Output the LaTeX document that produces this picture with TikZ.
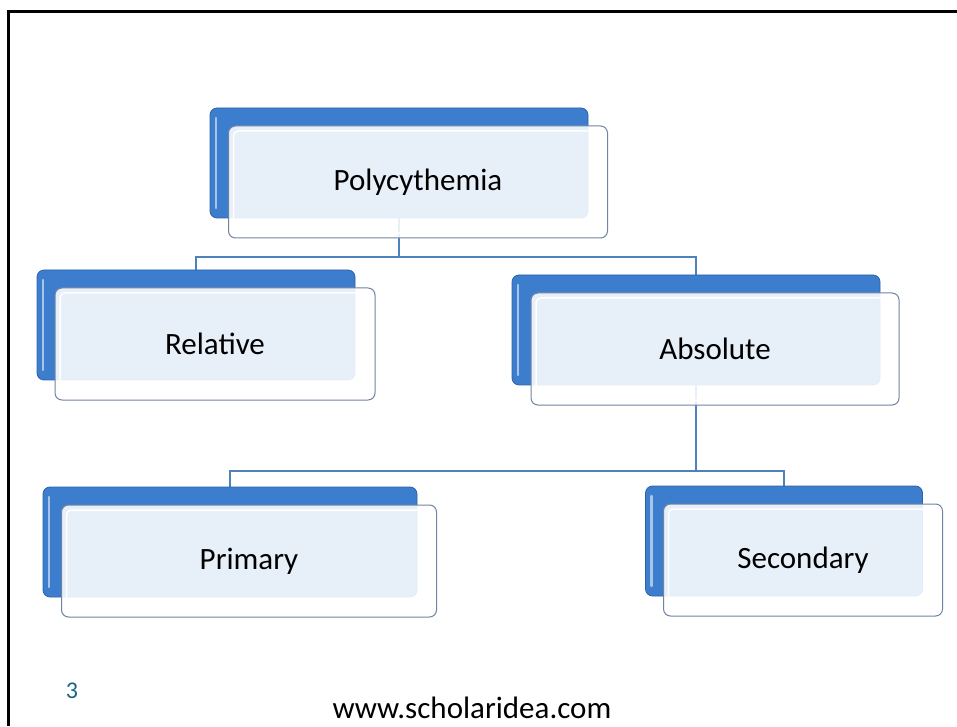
\documentclass[tikz,border=0pt]{standalone}
\usepackage{fontspec}
\setmainfont{Carlito}
\usetikzlibrary{positioning,calc,backgrounds}
\definecolor{boxblue}{RGB}{60,126,205}
\definecolor{boxedge}{RGB}{45,98,168}
\definecolor{linkblue}{RGB}{79,129,189}
\definecolor{frontedge}{RGB}{112,132,162}
\definecolor{pagenum}{RGB}{25,100,130}

\begin{document}
\begin{tikzpicture}[x=1pt,y=1pt,
  backbox/.style={draw=boxedge, fill=boxblue, rounded corners=7pt, minimum height=110pt, inner sep=0pt, line width=0.8pt,
    path picture={\draw[white!55!boxblue, line width=2.5pt, line cap=round] ([shift={(6pt,-10pt)}]path picture bounding box.north west) -- ([shift={(6pt,10pt)}]path picture bounding box.south west);}},
  frontbox/.style={draw=frontedge, fill=white, fill opacity=0.88, text opacity=1, rounded corners=7pt, minimum height=112pt, inner sep=0pt, line width=1pt, font=\fontsize{31}{36}\selectfont,
    path picture={\draw[white, line width=1.5pt, rounded corners=5pt] ([shift={(5pt,-5pt)}]path picture bounding box.north west) rectangle ([shift={(-5pt,5pt)}]path picture bounding box.south east);}},
  link/.style={draw=linkblue, line width=2pt},
  pageframe/.style={draw=black, line width=3pt}]
  \useasboundingbox (0,0) rectangle (957,726);
  \draw[pageframe] (8.5,0) -- (8.5,714.5) -- (957,714.5);

  % back boxes
  \node[backbox, minimum width=378pt] (polyb) at (399,563) {};
  \node[backbox, minimum width=318pt] (relb) at (196,401) {};
  \node[backbox, minimum width=368pt] (absb) at (696,396) {};
  \node[backbox, minimum width=374pt] (primb) at (230,184) {};
  \node[backbox, minimum width=277pt] (secb) at (784,185) {};

  % front boxes
  \node[frontbox, minimum width=379pt] (poly) at ([shift={(19,-19)}]polyb) {Polycythemia};
  \node[frontbox, minimum width=320pt] (rel) at ([shift={(19,-19)}]relb) {Relative};
  \node[frontbox, minimum width=368pt] (abs) at ([shift={(19,-19)}]absb) {Absolute};
  \node[frontbox, minimum width=375pt] (prim) at ([shift={(19,-19)}]primb) {Primary};
  \node[frontbox, minimum width=279pt] (sec) at ([shift={(19,-19)}]secb) {Secondary};

  \begin{scope}[on background layer]
    \draw[link] (polyb.south) |- ($(relb.north)+(0,13)$) -- (relb.north);
    \draw[link] (polyb.south) |- ($(absb.north)+(0,18)$) -- (absb.north);
    \draw[link] (absb.south) |- ($(primb.north)+(0,16)$) -- (primb.north);
    \draw[link] (absb.south) |- ($(secb.north)+(0,15)$) -- (secb.north);
  \end{scope}

  \node[text=pagenum, font=\fontsize{24}{28}\selectfont] (pg) at (72,35) {3};
  \node[font=\fontsize{31}{36}\selectfont, anchor=base] (url) at (472,8) {www.scholaridea.com};
\end{tikzpicture}
\end{document}
